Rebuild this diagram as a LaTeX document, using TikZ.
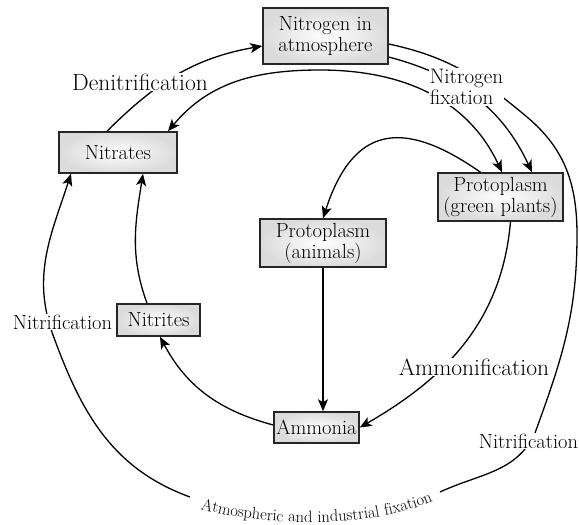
\documentclass[tikz,border=0pt]{standalone}
\usetikzlibrary{arrows.meta,decorations.text}
\tikzset{
  box/.style={draw=black!85,line width=1.5pt,inner color=white,outer color=black!14,
    align=center,inner sep=1pt,font=\fontsize{20.5}{21}\selectfont},
  lbl/.style={fill=white,inner sep=1pt,font=\fontsize{23.5}{25}\selectfont},
  slbl/.style={lbl,font=\fontsize{20.5}{22}\selectfont}
}
\begin{document}
\begin{tikzpicture}[x=1pt,y=1pt,line width=1.3pt,>={Stealth[length=12pt,width=10pt,inset=3pt]}]
\useasboundingbox (0,0) rectangle (579,-525);

\node[box,minimum width=125pt,minimum height=56pt] (atm)      at (325.5,-36)  {Nitrogen in\\atmosphere};
\node[box,minimum width=118pt,minimum height=41pt] (nitrates) at (118,-152.5) {Nitrates};
\node[box,minimum width=125pt,minimum height=48pt] (green)    at (500.5,-197) {Protoplasm\\(green plants)};
\node[box,minimum width=126pt,minimum height=48pt] (animals)  at (323,-243)   {Protoplasm\\(animals)};
\node[box,minimum width=83pt,minimum height=32pt]  (nitrites) at (158.5,-320) {Nitrites};
\node[box,minimum width=85pt,minimum height=31pt]  (ammonia)  at (316.5,-427.5) {Ammonia};

\coordinate (fixL) at (190,-497);
\coordinate (fixR) at (440,-492);

\draw [->]  ([xshift=-11pt]nitrates.north) to [out=45,in=190] ([yshift=-10pt]atm.west);
\draw [<->] ([xshift=50pt]nitrates.north)  to [out=50,in=180] (320,-70) to [out=0,in=115] ([xshift=1.5pt]green.north);
\draw [->]  ([yshift=-21pt]atm.east)       to [out=-15,in=115] ([xshift=31.5pt]green.north);
\draw       ([yshift=-8pt]atm.east)        to [out=-12,in=140] (527,-117) to [out=-40,in=90] (577,-235)
            to [out=-90,in=70] (535,-433) to [out=-115,in=25] (fixR);
\draw [->]  (fixL) to [out=160,in=-70] (53,-335) to [out=110,in=-108] ([xshift=-47pt]nitrates.south);
\draw [->]  ([xshift=-20pt]green.north)    to [out=145,in=72,looseness=1.5] (animals.north);
\draw [->]  (animals.south) -- (animals.south |- ammonia.north);
\draw [->]  ([xshift=10pt]green.south)     to [out=-95,in=30] (ammonia.east);
\draw [->]  ([yshift=2.5pt]ammonia.west)   to [out=165,in=-62] ([xshift=1.5pt]nitrites.south);
\draw [->]  ([xshift=-11.5pt]nitrites.north) to [out=110,in=-99] ([xshift=25pt]nitrates.south);

\node[lbl] (denit)   at (140,-82)  {Denitrification};
\node[lbl,font=\fontsize{21}{21}\selectfont,align=left] (nfix) at (466.5,-87) {Nitrogen\\fixation};
\node[lbl] (ammonif) at (474,-367) {Ammonification};
\node[slbl] (nitrifL) at (62.5,-322) {Nitrification};
\node[slbl] (nitrifR) at (528.5,-441) {Nitrification};

\path [decorate,decoration={text along path,text align=center,
  text={|\fontsize{16.5}{16.5}\selectfont|Atmospheric and industrial fixation}}]
  (194,-507) to [out=-18,in=-152,looseness=0.7] (439,-498);
\end{tikzpicture}
\end{document}
